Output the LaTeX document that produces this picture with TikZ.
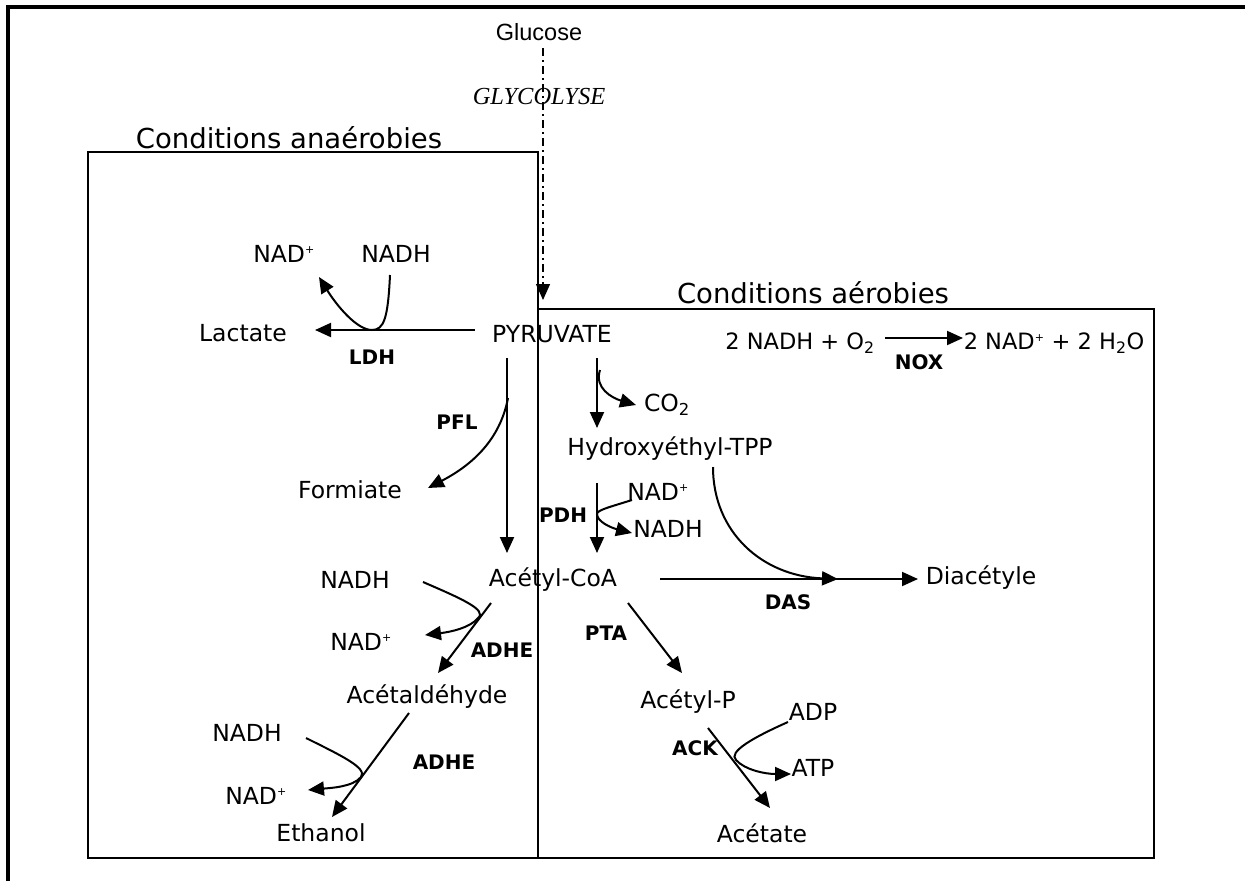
\documentclass[tikz,border=0pt]{standalone}
\usepackage{fontspec}
\setmainfont{DejaVu Sans}
\newfontfamily\arialfont{Liberation Sans}
\newfontfamily\timesfont{Liberation Serif}
\usetikzlibrary{arrows.meta}

\newcommand{\nadp}{NAD\textsuperscript{\fontsize{11}{11}\selectfont +}}

\begin{document}
\begin{tikzpicture}[x=1pt,y=-1pt,
		mol/.style={font=\fontsize{23.5}{28}\selectfont,inner sep=0pt},
		enz/.style={font=\fontsize{20}{23}\selectfont\bfseries,inner sep=0pt},
		ttl/.style={font=\fontsize{27.5}{32}\selectfont,inner sep=0pt},
		arr/.style={line width=2pt,-{Triangle[length=16pt,width=14pt]}},
		box/.style={line width=2.2pt}]
	\useasboundingbox (0,0) rectangle (1245,881);
	\draw[line width=3.5pt] (8,881) -- (8,7) -- (1245,7);
	\draw[box] (88,152) rectangle (538,858);
	\draw[box] (538,309) rectangle (1154,858);
	\node[ttl] (tanae) at (289,138) {Conditions anaérobies};
	\node[ttl] (taer) at (813,293) {Conditions aérobies};
	\node[inner sep=0pt,font=\arialfont\fontsize{23.5}{28}\selectfont] (glc) at (539,32) {Glucose};
	\node[inner sep=0pt,font=\timesfont\itshape\fontsize{24.5}{28}\selectfont] (glyco) at (539,97) {GLYCOLYSE};
	\foreach \name/\x/\y/\txt in {pyr/552/334/PYRUVATE, lac/243/333/Lactate, nadpA/284/254/\nadp,
			nadhA/396/254/NADH, form/350/490/Formiate, co2/667/405/{CO\textsubscript{2}},
			hetpp/670/449/Hydroxyéthyl-TPP, nadpB/658/492/\nadp, nadhB/668/529/NADH,
			acoa/553/580/Acétyl-CoA, diac/981/578/Diacétyle, acp/688/702/Acétyl-P,
			adp/813/712/ADP, atp/813/768/ATP, acet/762/833/Acétate, nadhC/355/580/NADH,
			nadpC/361/642/\nadp, acald/427/697/Acétaldéhyde, nadhD/247/733/NADH,
			nadpD/256/796/\nadp, etoh/321/833/Ethanol}
		\node[mol] (\name) at (\x,\y) {\txt};
	\node[mol,font=\fontsize{22.5}{28}\selectfont] (noxl) at (800,343) {2 NADH + O\textsubscript{2}};
	\node[mol,font=\fontsize{22.5}{28}\selectfont] (noxr) at (1054,343) {2 \nadp{} + 2 H\textsubscript{2}O};
	\foreach \name/\x/\y/\txt in {ldh/372/357/LDH, pfl/457/422/PFL, pdh/563/515/PDH,
			das/788/602/DAS, pta/606/633/PTA, ack/695/748/ACK, adheA/502/650/ADHE,
			adheB/444/762/ADHE, nox/919/362/NOX}
		\node[enz] (\name) at (\x,\y) {\txt};
	% glycolyse
	\coordinate (g1) at (543,48);
	\coordinate (g2) at (543,300);
	\draw[arr,line width=1.4pt,dash pattern=on 8pt off 4pt on 2pt off 4pt] (g1) -- (g2);
	% LDH
	\coordinate (ldh1) at (475,330);
	\coordinate (ldh2) at (315,330);
	\coordinate (ldh3) at (390,275);
	\coordinate (ldh4) at (319,277);
	\draw[arr] (ldh1) -- (ldh2);
	\draw[arr] (ldh3) .. controls (388,318) and (384,330) .. (372,330) .. controls (357,330) and (337,306) .. (ldh4);
	% PFL
	\coordinate (pfl1) at (507,358);
	\coordinate (pfl2) at (507,553);
	\coordinate (pfl3) at (508,398);
	\coordinate (pfl4) at (428,488);
	\draw[arr] (pfl1) -- (pfl2);
	\draw[arr] (pfl3) .. controls (500,440) and (472,465) .. (pfl4);
	% decarboxylation
	\coordinate (dc1) at (597,358);
	\coordinate (dc2) at (597,428);
	\coordinate (dc3) at (600,370);
	\coordinate (dc4) at (636,405);
	\draw[arr] (dc1) -- (dc2);
	\draw[arr] (dc3) .. controls (594,388) and (612,398) .. (dc4);
	% PDH
	\coordinate (pdh1) at (597,483);
	\coordinate (pdh2) at (597,553);
	\coordinate (pdh3) at (632,500);
	\coordinate (pdh4) at (632,533);
	\draw[arr] (pdh1) -- (pdh2);
	\draw[arr] (pdh3) .. controls (610,507) and (597,510) .. (597,514) .. controls (597,522) and (612,528) .. (pdh4);
	% DAS
	\coordinate (das1) at (660,579);
	\coordinate (das2) at (918,579);
	\coordinate (das3) at (713,467);
	\coordinate (das4) at (838,579);
	\draw[arr] (das1) -- (das2);
	\draw[arr] (das3) .. controls (713,532) and (762,576) .. (das4);
	% PTA, ACK
	\coordinate (pta1) at (628,603);
	\coordinate (pta2) at (682,673);
	\draw[arr] (pta1) -- (pta2);
	\coordinate (ack1) at (708,728);
	\coordinate (ack2) at (770,808);
	\coordinate (ack3) at (788,722);
	\coordinate (ack4) at (791,774);
	\draw[arr] (ack1) -- (ack2);
	\draw[arr] (ack3) .. controls (752,738) and (728,752) .. (736,760) .. controls (745,770) and (765,774) .. (ack4);
	% ADHE
	\coordinate (ad1) at (491,603);
	\coordinate (ad2) at (438,673);
	\coordinate (ad3) at (423,582);
	\coordinate (ad4) at (425,635);
	\draw[arr] (ad1) -- (ad2);
	\draw[arr] (ad3) .. controls (460,598) and (488,610) .. (478,618) .. controls (470,628) and (450,632) .. (ad4);
	\coordinate (ae1) at (409,713);
	\coordinate (ae2) at (332,817);
	\coordinate (ae3) at (306,738);
	\coordinate (ae4) at (308,790);
	\draw[arr] (ae1) -- (ae2);
	\draw[arr] (ae3) .. controls (340,755) and (368,768) .. (361,777) .. controls (353,787) and (330,788) .. (ae4);
	% NOX
	\coordinate (nx1) at (885,338);
	\coordinate (nx2) at (963,338);
	\draw[arr] (nx1) -- (nx2);
\end{tikzpicture}
\end{document}
